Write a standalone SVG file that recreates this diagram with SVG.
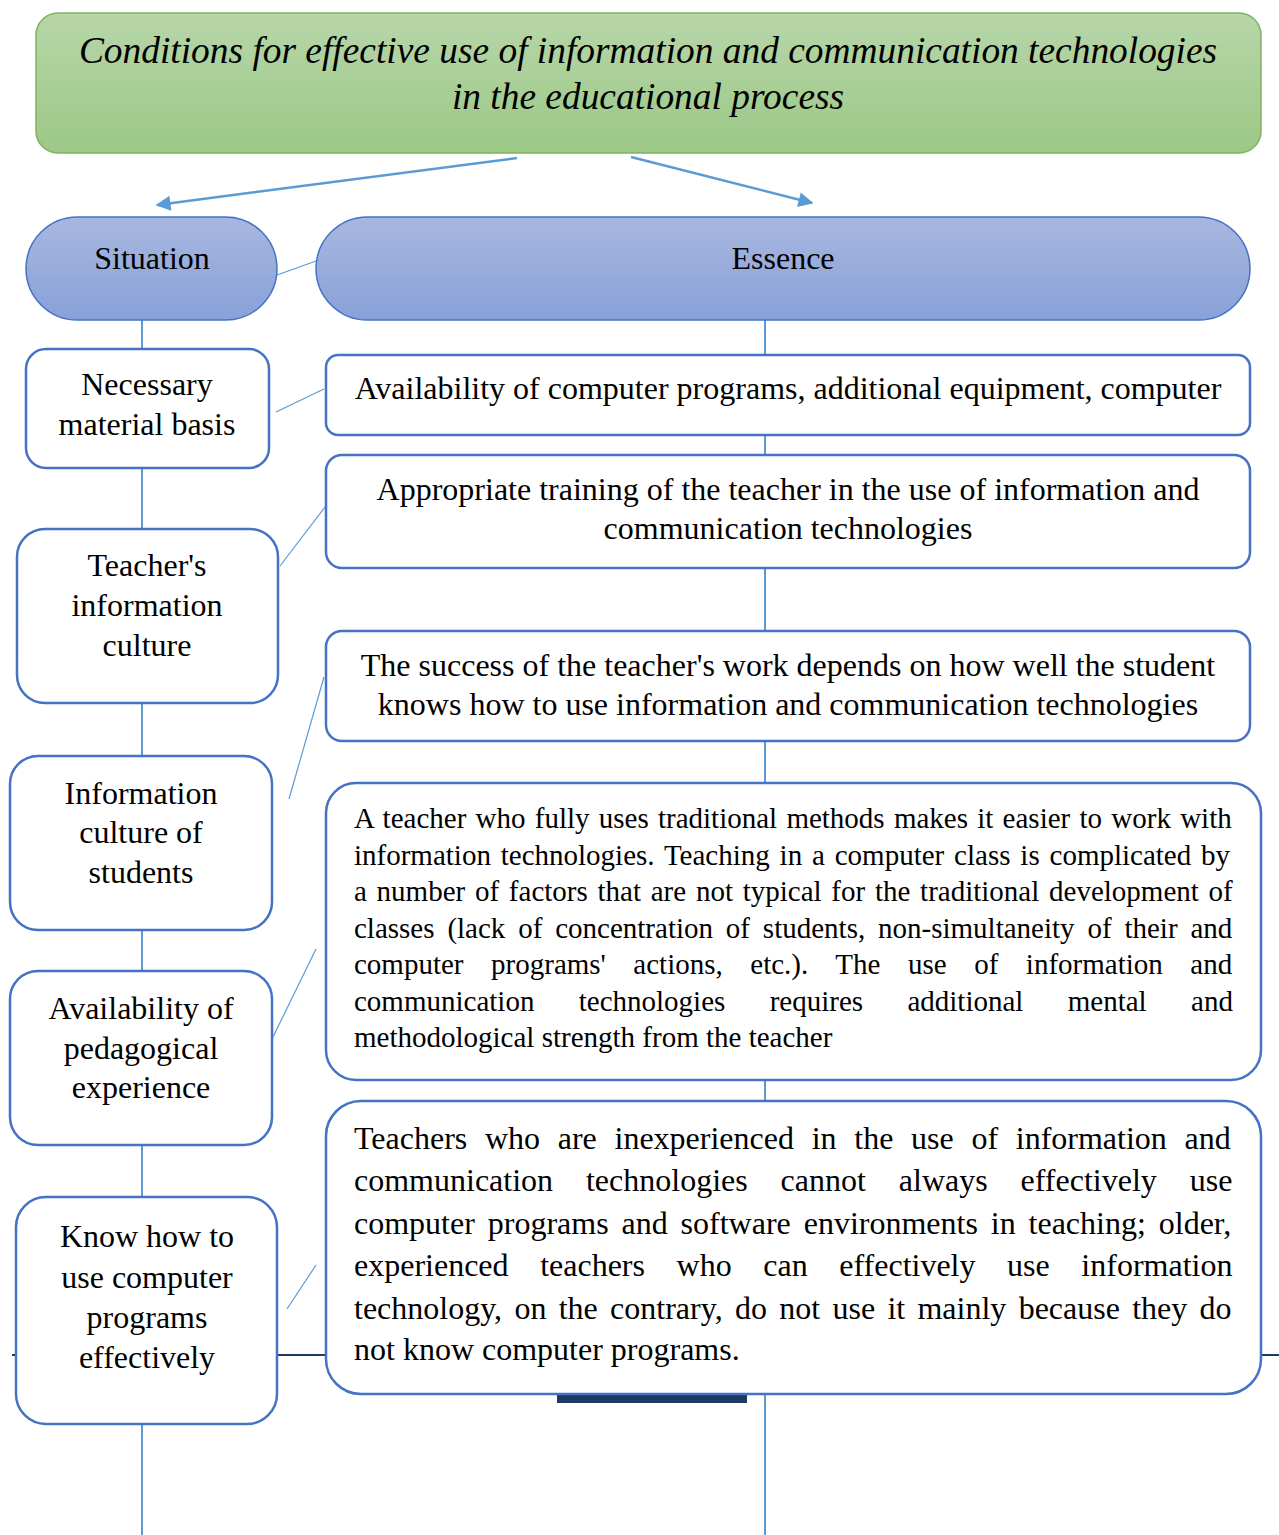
<svg xmlns="http://www.w3.org/2000/svg" width="1279" height="1535" viewBox="0 0 1279 1535">
  <defs>
    <linearGradient id="gGreen" x1="0" y1="0" x2="0" y2="1">
      <stop offset="0" stop-color="#b7d6a9"/>
      <stop offset="1" stop-color="#9cc886"/>
    </linearGradient>
    <linearGradient id="gBlue" x1="0" y1="0" x2="0" y2="1">
      <stop offset="0" stop-color="#a8b7e0"/>
      <stop offset="1" stop-color="#88a1d8"/>
    </linearGradient>
    <marker id="arrow" viewBox="0 0 10 10" refX="9" refY="5" markerWidth="6.5" markerHeight="6" markerUnits="strokeWidth" orient="auto">
      <path d="M0,0 L10,5 L0,10 Z" fill="#5b9bd5"/>
    </marker>
  </defs>
  <style>
    text { font-family: "Liberation Serif", "Times New Roman", serif; fill: #000; }
    .title { font-size: 37.4px; font-style: italic; text-anchor: middle; }
    .lbl { font-size: 32px; text-anchor: middle; }
    .body4 { font-size: 29px; }
    .body5 { font-size: 32px; }
    .box { fill: #fff; stroke: #4472c4; stroke-width: 2.5; }
    .pill { fill: url(#gBlue); stroke: #4472c4; stroke-width: 1.5; }
    .spine { stroke: #5b9bd5; stroke-width: 2; fill: none; }
    .tie { stroke: #5b9bd5; stroke-width: 1.2; fill: none; }
    .arrowline { stroke: #5b9bd5; stroke-width: 2.5; fill: none; marker-end: url(#arrow); }
  </style>

  <rect width="1279" height="1535" fill="#fff"/>

  <!-- connectors -->
  <g id="connectors">
    <line class="spine" x1="142" y1="320" x2="142" y2="1535"/>
    <line class="spine" x1="765" y1="320" x2="765" y2="1535"/>
    <line x1="12" y1="1355" x2="1279" y2="1355" stroke="#203864" stroke-width="2"/>
    <rect x="557" y="1395" width="190" height="8" fill="#203864"/>
    <line class="arrowline" x1="517" y1="158" x2="157" y2="205"/>
    <line class="arrowline" x1="631" y1="157" x2="812" y2="203"/>
    <line class="tie" x1="277" y1="275" x2="316" y2="261"/>
    <line class="tie" x1="276" y1="412" x2="324" y2="389"/>
    <line class="tie" x1="280" y1="566" x2="325" y2="507"/>
    <line class="tie" x1="289" y1="799" x2="324" y2="677"/>
    <line class="tie" x1="273" y1="1037" x2="316" y2="949"/>
    <line class="tie" x1="287" y1="1309" x2="316" y2="1265"/>
  </g>

  <!-- header -->
  <g id="header">
    <rect x="36" y="13" width="1225" height="140" rx="22" fill="url(#gGreen)" stroke="#7fb35f" stroke-width="1.5"/>
    <text class="title" x="648" y="63">Conditions for effective use of information and communication technologies</text>
    <text class="title" x="648" y="109">in the educational process</text>
  </g>

  <!-- column heads -->
  <g id="situation">
    <rect class="pill" x="26" y="217" width="251" height="103" rx="51.5"/>
    <text class="lbl" x="152" y="269">Situation</text>
  </g>
  <g id="essence">
    <rect class="pill" x="316" y="217" width="934" height="103" rx="51.5"/>
    <text class="lbl" x="783" y="269">Essence</text>
  </g>

  <!-- situation column -->
  <g id="s1">
    <rect class="box" x="26" y="349" width="243" height="119" rx="20"/>
    <text class="lbl" x="147" y="395">Necessary</text>
    <text class="lbl" x="147" y="435">material basis</text>
  </g>
  <g id="s2">
    <rect class="box" x="17" y="529" width="261" height="174" rx="28"/>
    <text class="lbl" x="147" y="576">Teacher's</text>
    <text class="lbl" x="147" y="616">information</text>
    <text class="lbl" x="147" y="656">culture</text>
  </g>
  <g id="s3">
    <rect class="box" x="10" y="756" width="262" height="174" rx="28"/>
    <text class="lbl" x="141" y="804">Information</text>
    <text class="lbl" x="141" y="843">culture of</text>
    <text class="lbl" x="141" y="883">students</text>
  </g>
  <g id="s4">
    <rect class="box" x="10" y="971" width="262" height="174" rx="28"/>
    <text class="lbl" x="141" y="1019">Availability of</text>
    <text class="lbl" x="141" y="1059">pedagogical</text>
    <text class="lbl" x="141" y="1098">experience</text>
  </g>
  <g id="s5">
    <rect class="box" x="16" y="1197" width="261" height="227" rx="30"/>
    <text class="lbl" x="147" y="1247">Know how to</text>
    <text class="lbl" x="147" y="1288">use computer</text>
    <text class="lbl" x="147" y="1328">programs</text>
    <text class="lbl" x="147" y="1368">effectively</text>
  </g>

  <!-- essence column -->
  <g id="e1">
    <rect class="box" x="326" y="355" width="924" height="80" rx="12"/>
    <text class="lbl" x="788" y="399">Availability of computer programs, additional equipment, computer</text>
  </g>
  <g id="e2">
    <rect class="box" x="326" y="455" width="924" height="113" rx="16"/>
    <text class="lbl" x="788" y="500">Appropriate training of the teacher in the use of information and</text>
    <text class="lbl" x="788" y="539">communication technologies</text>
  </g>
  <g id="e3">
    <rect class="box" x="326" y="631" width="924" height="110" rx="16"/>
    <text class="lbl" x="788" y="676">The success of the teacher's work depends on how well the student</text>
    <text class="lbl" x="788" y="715">knows how to use information and communication technologies</text>
  </g>
  <g id="e4">
    <rect class="box" x="326" y="783" width="935" height="297" rx="30"/>
    <text class="body4" x="354" y="828" word-spacing="2">A teacher who fully uses traditional methods makes it easier to work with</text>
    <text class="body4" x="354" y="865" word-spacing="2.6">information technologies. Teaching in a computer class is complicated by</text>
    <text class="body4" x="354" y="901" word-spacing="2.5">a number of factors that are not typical for the traditional development of</text>
    <text class="body4" x="354" y="938" word-spacing="5.6">classes (lack of concentration of students, non-simultaneity of their and</text>
    <text class="body4" x="354" y="974" word-spacing="20.3">computer programs' actions, etc.). The use of information and</text>
    <text class="body4" x="354" y="1011" word-spacing="37.1">communication technologies requires additional mental and</text>
    <text class="body4" x="354" y="1047">methodological strength from the teacher</text>
  </g>
  <g id="e5">
    <rect class="box" x="326" y="1101" width="935" height="293" rx="35"/>
    <text class="body5" x="354" y="1149" word-spacing="9.7">Teachers who are inexperienced in the use of information and</text>
    <text class="body5" x="354" y="1191" word-spacing="24.9">communication technologies cannot always effectively use</text>
    <text class="body5" x="354" y="1234" word-spacing="4.9">computer programs and software environments in teaching; older,</text>
    <text class="body5" x="354" y="1276" word-spacing="23.6">experienced teachers who can effectively use information</text>
    <text class="body5" x="354" y="1319" word-spacing="4.3">technology, on the contrary, do not use it mainly because they do</text>
    <text class="body5" x="354" y="1360">not know computer programs.</text>
  </g>
</svg>
